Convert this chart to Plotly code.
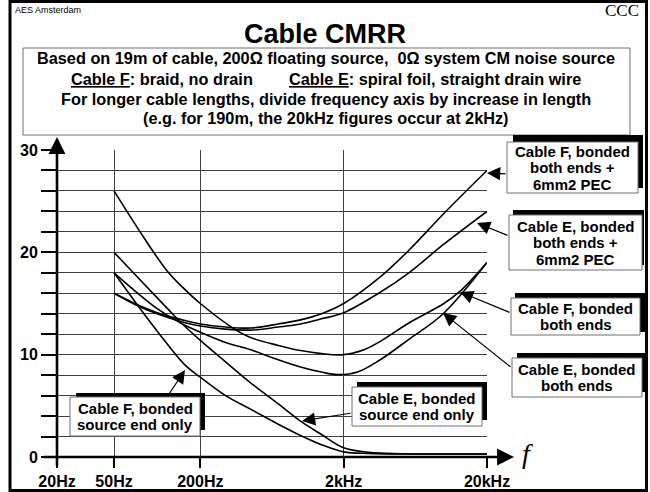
import plotly.graph_objects as go

W, H = 650, 492

# ---------------- data ----------------
freq_tickvals = [20, 50, 200, 2000, 20000]
freq_ticktext = ["20Hz", "50Hz", "200Hz", "2kHz", "20kHz"]
y_tickvals = list(range(0, 31, 2))
y_ticktext = ["0", "", "", "", "", "10", "", "", "", "", "20", "", "", "", "", "30"]

f_F_pec = [50, 75, 100, 150, 200, 300, 450, 700, 1000, 1400, 2000, 3600, 5700, 10000, 20000]
v_F_pec = [16, 14.8, 14.1, 13.4, 13.0, 12.7, 12.6, 13.0, 13.4, 14.0, 15.0, 17.6, 20.2, 23.8, 28.0]

f_E_pec = [50, 75, 100, 150, 200, 300, 450, 700, 1000, 1400, 2000, 3600, 5700, 10000, 20000]
v_E_pec = [16, 14.7, 14.0, 13.2, 12.8, 12.5, 12.4, 12.7, 13.0, 13.5, 14.1, 16.1, 18.0, 20.8, 24.0]

f_F_both = [50, 76, 117, 150, 200, 338, 444, 700, 1000, 1400, 2000, 2800, 3600, 5700, 10000, 13000, 20000]
v_F_both = [26, 22.0, 18.2, 16.6, 15.0, 12.6, 11.7, 10.9, 10.4, 10.1, 10.0, 10.5, 11.3, 13.1, 15.0, 16.2, 19.0]

f_E_both = [50, 100, 150, 200, 300, 444, 700, 1000, 1400, 1800, 2500, 3600, 5700, 9900, 20000]
v_E_both = [18, 14.5, 13.0, 12.2, 11.2, 10.5, 9.5, 8.8, 8.3, 8.05, 8.3, 9.5, 11.5, 14.0, 19.0]

f_F_src = [50, 76, 100, 156, 200, 300, 444, 700, 1000, 1400, 2000, 3000, 5000, 10000, 20000]
v_F_src = [18, 14.5, 12.3, 9.0, 7.8, 6.0, 4.7, 3.2, 2.1, 1.2, 0.5, 0.35, 0.3, 0.3, 0.3]

f_E_src = [50, 75, 118, 150, 200, 300, 444, 700, 1025, 1400, 2000, 3000, 5000, 10000, 20000]
v_E_src = [20, 17.4, 14.5, 13.0, 11.4, 9.3, 7.3, 5.2, 3.4, 2.2, 0.9, 0.45, 0.32, 0.3, 0.3]

series = [
    (f_F_pec, v_F_pec), (f_E_pec, v_E_pec),
    (f_F_both, v_F_both), (f_E_both, v_E_both),
    (f_F_src, v_F_src), (f_E_src, v_E_src),
]

# ---------------- helpers ----------------
def px(x):
    return x / W

def py(y):
    return 1 - y / H

FONT = "Liberation Sans, Arial, sans-serif"
SERIF = "Liberation Serif, Times New Roman, serif"

fig = go.Figure()
for fx, fv in series:
    fig.add_trace(go.Scatter(x=fx, y=fv, mode="lines",
                             line=dict(color="black", width=1.6, shape="spline", smoothing=1.0),
                             hoverinfo="skip", showlegend=False))

shapes = []
annotations = []

def text(x, y, t, size, anchor="center", family=FONT):
    annotations.append(dict(xref="paper", yref="paper", x=px(x), y=py(y),
                            xanchor=anchor, yanchor="middle", showarrow=False, text=t,
                            font=dict(family=family, size=size, color="black")))

# outer frame
shapes.append(dict(type="rect", xref="paper", yref="paper",
                   x0=px(10), x1=px(646.5), y0=py(490.5), y1=py(1.5),
                   line=dict(color="black", width=3), layer="above"))

# description box
shapes.append(dict(type="rect", xref="paper", yref="paper",
                   x0=px(23), x1=px(630), y0=py(135), y1=py(48),
                   line=dict(color="#707070", width=1), fillcolor="white", layer="below"))

def callout(box, shadow, lines, tail, tip):
    shapes.append(dict(type="rect", xref="paper", yref="paper",
                       x0=px(shadow[0]), x1=px(shadow[2]), y0=py(shadow[3]), y1=py(shadow[1]),
                       line=dict(width=0), fillcolor="black", layer="above"))
    shapes.append(dict(type="rect", xref="paper", yref="paper",
                       x0=px(box[0]), x1=px(box[2]), y0=py(box[3]), y1=py(box[1]),
                       line=dict(color="#707070", width=1), fillcolor="white", layer="above"))
    cx = (box[0] + box[2]) / 2
    cy = (box[1] + box[3]) / 2
    n = len(lines)
    step = 16.5
    for i, l in enumerate(lines):
        text(cx, cy + (i - (n - 1) / 2) * step, "<b>%s</b>" % l, 15)
    annotations.append(dict(xref="paper", yref="paper", x=px(tip[0]), y=py(tip[1]),
                            ax=tail[0] - tip[0], ay=tail[1] - tip[1], text="",
                            showarrow=True, arrowhead=2, arrowsize=2.2, arrowwidth=1.2,
                            arrowcolor="black"))

callout((70, 397, 200, 436), (76, 393, 205, 430), ["Cable F, bonded", "source end only"], (167, 397), (185, 370))
callout((352, 387, 482, 426), (357, 382, 487, 420), ["Cable E, bonded", "source end only"], (352, 413), (302, 421))
callout((507, 142, 638, 193), (513, 135, 643, 188), ["Cable F, bonded", "both ends +", "6mm2 PEC"], (507, 174), (487, 173))
callout((509, 215, 642, 270), (513, 210, 644, 265), ["Cable E, bonded", "both ends +", "6mm2 PEC"], (509, 236), (477, 223))
callout((511, 298, 640, 335), (515, 293, 645, 332), ["Cable F, bonded", "both ends"], (511, 313), (460, 292))
callout((512, 358, 642, 397), (517, 353, 647, 392), ["Cable E, bonded", "both ends"], (512, 368), (443, 313))

# axes with arrows
annotations.append(dict(xref="paper", yref="paper", x=px(57), y=py(137), ax=0, ay=330, text="",
                        showarrow=True, arrowhead=2, arrowsize=1.3, arrowwidth=2.6, arrowcolor="black"))
annotations.append(dict(xref="paper", yref="paper", x=px(514), y=py(457), ax=-472, ay=0, text="",
                        showarrow=True, arrowhead=2, arrowsize=1.3, arrowwidth=2.6, arrowcolor="black"))

# texts
text(13, 10, "AES Amsterdam", 9, anchor="left")
text(641, 11, "CCC", 17, anchor="right", family=SERIF)
text(325, 34, "<b>Cable CMRR</b>", 27)
U = "<span style='text-decoration:underline'>%s</span>"
desc = [
    (58, "<b>Based on 19m of cable, 200\u03a9 floating source,  0\u03a9 system CM noise source</b>"),
    (79, "<b>" + U % "Cable F" + ": braid, no drain        " + U % "Cable E" + ": spiral foil, straight drain wire</b>"),
    (99, "<b>For longer cable lengths, divide frequency axis by increase in length</b>"),
    (118, "<b>(e.g. for 190m, the 20kHz figures occur at 2kHz)</b>"),
]
for yy, t in desc:
    text(326, yy, t, 16.3)
text(527, 453, "<i>f</i>", 28, family=SERIF)

fig.update_layout(
    width=W, height=H, autosize=False,
    margin=dict(l=0, r=0, t=0, b=0, pad=0, autoexpand=False),
    paper_bgcolor="white", plot_bgcolor="white",
    shapes=shapes, annotations=annotations,
    xaxis=dict(type="log", range=[1.30103, 4.30103], domain=[57 / W, 487 / W],
               tickvals=freq_tickvals, ticktext=freq_ticktext, automargin=False,
               ticks="outside", ticklen=10, tickwidth=2, tickcolor="black",
               showgrid=True, gridcolor="#404040", gridwidth=1,
               showline=False, zeroline=False,
               tickfont=dict(family=FONT, size=16, color="black", weight="bold")),
    yaxis=dict(range=[0, 30], domain=[(H - 457) / H, (H - 150) / H],
               tickvals=y_tickvals, ticktext=y_ticktext, automargin=False,
               ticks="outside", ticklen=15, tickwidth=2, tickcolor="black",
               showgrid=True, gridcolor="#404040", gridwidth=1,
               showline=False, zeroline=False,
               tickfont=dict(family=FONT, size=16, color="black", weight="bold")),
)

fig.write_html("out.html", config={"displayModeBar": False, "staticPlot": True},
               post_script="document.body.style.margin='0';document.body.style.overflow='hidden';")
